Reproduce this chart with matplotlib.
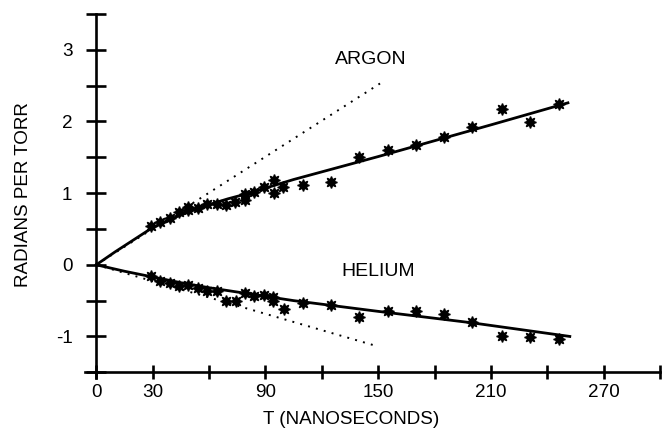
import matplotlib
matplotlib.use("Agg")
import matplotlib.pyplot as plt
from matplotlib.ticker import FixedLocator, FuncFormatter

# measured points (T in ns, phase in radians per torr)
t_argon = [29, 34, 39, 44, 49, 49, 54, 59, 64, 69, 74, 79, 79, 84, 89, 94.5, 94.5,
           99.5, 110, 125, 140, 155, 170, 185, 200, 216, 231, 246]
phi_argon = [0.54, 0.60, 0.65, 0.74, 0.81, 0.77, 0.79, 0.85, 0.85, 0.83, 0.87, 0.91, 0.985,
             1.01, 1.08, 1.19, 1.00, 1.08, 1.12, 1.15, 1.51, 1.60, 1.67, 1.78, 1.92, 2.18, 1.99, 2.25]

t_helium = [29, 34, 39, 44, 49, 54, 59, 64, 69, 74.5, 79, 84, 89, 94, 94, 100,
            110, 125, 140, 155, 170, 185, 200, 216, 231, 246]
phi_helium = [-0.15, -0.22, -0.25, -0.29, -0.28, -0.33, -0.37, -0.36, -0.51, -0.51, -0.40,
              -0.43, -0.42, -0.45, -0.51, -0.62, -0.53, -0.56, -0.73, -0.65, -0.64, -0.68,
              -0.80, -0.99, -1.01, -1.03]

# fitted curves
t_fit_argon = [0, 10, 20, 30, 40, 50, 60, 70, 80, 90, 105, 150, 211, 251]
phi_fit_argon = [0, 0.18, 0.35, 0.52, 0.64, 0.75, 0.84, 0.92, 0.99, 1.07, 1.19, 1.51, 1.96, 2.26]
t_fit_helium = [0, 15, 30, 45, 60, 75, 90, 105, 150, 200, 252]
phi_fit_helium = [0, -0.09, -0.17, -0.25, -0.32, -0.38, -0.44, -0.50, -0.65, -0.81, -1.00]

# dotted initial-slope lines
t_dot_argon = [0, 151]
phi_dot_argon = [0, 2.53]
t_dot_helium = [0, 148]
phi_dot_helium = [0, -1.125]

x_ticks = [0, 30, 60, 90, 120, 150, 180, 210, 240, 270, 300]
x_labels = ["0", "30", "", "90", "", "150", "", "210", "", "270", ""]
y_ticks = [-1.5, -1, -0.5, 0, 0.5, 1, 1.5, 2, 2.5, 3, 3.5]

FONT = "Liberation Sans"
FS = 13.6


def main():
    plt.rcParams["font.family"] = [FONT, "DejaVu Sans"]
    fig = plt.figure(figsize=(6.64, 4.34), dpi=100)
    ax = fig.add_axes([85 / 664, (434 - 378) / 434, 575 / 664, 364 / 434])

    ax.plot(t_dot_argon, phi_dot_argon, color="black", lw=1.4, linestyle=(0, (1, 3.2)))
    ax.plot(t_dot_helium, phi_dot_helium, color="black", lw=1.4, linestyle=(0, (1, 3.2)))
    ax.plot(t_fit_argon, phi_fit_argon, color="black", lw=2.0)
    ax.plot(t_fit_helium, phi_fit_helium, color="black", lw=2.0)
    ax.plot(t_argon, phi_argon, linestyle="none", marker=(8, 1, 0), ms=8.5, color="black")
    ax.plot(t_helium, phi_helium, linestyle="none", marker=(8, 1, 0), ms=8.5, color="black")

    ax.text(146, 2.86, "ARGON", ha="center", va="center", fontsize=14)
    ax.text(150, -0.1, "HELIUM", ha="center", va="center", fontsize=14)

    ax.set_xlim(-6, 300)
    ax.set_ylim(-1.58, 3.5)
    ax.spines["top"].set_visible(False)
    ax.spines["right"].set_visible(False)
    ax.spines["left"].set_position(("data", 0))
    ax.spines["bottom"].set_position(("data", -1.5))
    for s in ("left", "bottom"):
        ax.spines[s].set_linewidth(1.9)

    ax.xaxis.set_major_locator(FixedLocator(x_ticks))
    ax.set_xticklabels(x_labels)
    ax.yaxis.set_major_locator(FixedLocator(y_ticks))
    ax.yaxis.set_major_formatter(FuncFormatter(lambda v, p: f"{v:.0f}" if v == int(v) and -1.5 < v < 3.5 else ""))
    ax.tick_params(axis="x", direction="inout", length=9.4, width=1.9, pad=4, labelsize=FS)
    ax.tick_params(axis="y", direction="inout", length=14.4, width=1.9, pad=10, labelsize=FS)

    ax.set_xlabel("T (NANOSECONDS)", fontsize=FS)
    ax.xaxis.set_label_coords(0.463, -0.09)
    ax.set_ylabel("RADIANS PER TORR", fontsize=FS)
    ax.yaxis.set_label_coords(-0.092, 0.503)

    fig.savefig("out.png", dpi=100)


if __name__ == "__main__":
    main()
